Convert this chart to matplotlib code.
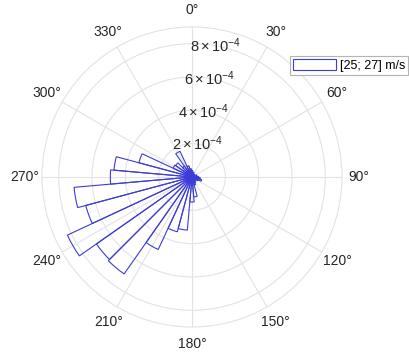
import numpy as np
import matplotlib
matplotlib.use("Agg")
import matplotlib.pyplot as plt

plt.rcParams['font.family'] = ['Liberation Sans', 'DejaVu Sans']
plt.rcParams['mathtext.fontset'] = 'custom'
plt.rcParams['mathtext.rm'] = 'Liberation Sans'
plt.rcParams['mathtext.it'] = 'Liberation Sans:italic'

# Direction bins (degrees, centre of each 10-degree sector)
directions = np.arange(0, 360, 10)
# Normalised frequency for wind speeds in [25; 27] m/s
frequency = np.array([
    0.4, 0.3, 0.3, 0.2, 0.2, 0.2, 0.2, 0.3, 0.3,     # 0 - 80
    0.4, 0.5, 0.6, 0.4, 0.3, 0.3, 0.4, 0.5, 1.2,     # 90 - 170
    1.5, 3.2, 3.4, 4.8, 7.1, 7.0, 8.25, 6.6, 7.1,    # 180 - 260
    4.9, 4.7, 3.3, 1.25, 1.2, 0.8, 1.7, 0.7, 0.5,    # 270 - 350
]) * 1e-4
legend_label = "[25; 27] m/s"
r_ticks = [2e-4, 4e-4, 6e-4, 8e-4]
r_tick_labels = [r"$2\times10^{-4}$", r"$4\times10^{-4}$",
                 r"$6\times10^{-4}$", r"$8\times10^{-4}$"]
r_max = 9e-4
r_label_angle = 10
theta_ticks = np.arange(0, 360, 30)

fig = plt.figure(figsize=(4.09, 3.56), dpi=100)
ax = fig.add_axes([42 / 409, 29 / 356, 300 / 409, 300 / 356], projection='polar')
ax.set_theta_zero_location('N')
ax.set_theta_direction(-1)

text_color = '#262626'
grid_color = '#e3e3e3'
bar_color = '#3c3cd6'

ax.bar(np.deg2rad(directions), frequency, width=np.deg2rad(10), bottom=0,
       facecolor='none', edgecolor=bar_color, linewidth=0.8,
       label=legend_label, zorder=3)

ax.set_ylim(0, r_max)
ax.set_yticks(r_ticks)
ax.set_yticklabels([])
for r, lab in zip(r_ticks, r_tick_labels):
    ax.text(np.deg2rad(r_label_angle), r, lab, ha='center', va='center',
            color=text_color, fontsize=10.5, zorder=4)
ax.set_thetagrids(theta_ticks, [f"{t}°" for t in theta_ticks],
                  color=text_color, fontsize=10)
ax.tick_params(axis='x', pad=2)
ax.grid(True, color=grid_color, linewidth=0.8)
ax.spines['polar'].set_color(grid_color)
ax.spines['polar'].set_linewidth(0.8)
ax.set_axisbelow(True)

leg = fig.legend(loc='upper right', bbox_to_anchor=(408 / 409, 1 - 56 / 356),
                 fontsize=9, frameon=True, fancybox=False, borderaxespad=0,
                 handlelength=3.4, handleheight=0.9, borderpad=0.25,
                 handletextpad=0.3)
leg.get_frame().set_edgecolor('#a0a0a0')
leg.get_frame().set_linewidth(0.8)
for h in leg.legend_handles:
    h.set_facecolor('white')

fig.savefig('out.png', dpi=100)
